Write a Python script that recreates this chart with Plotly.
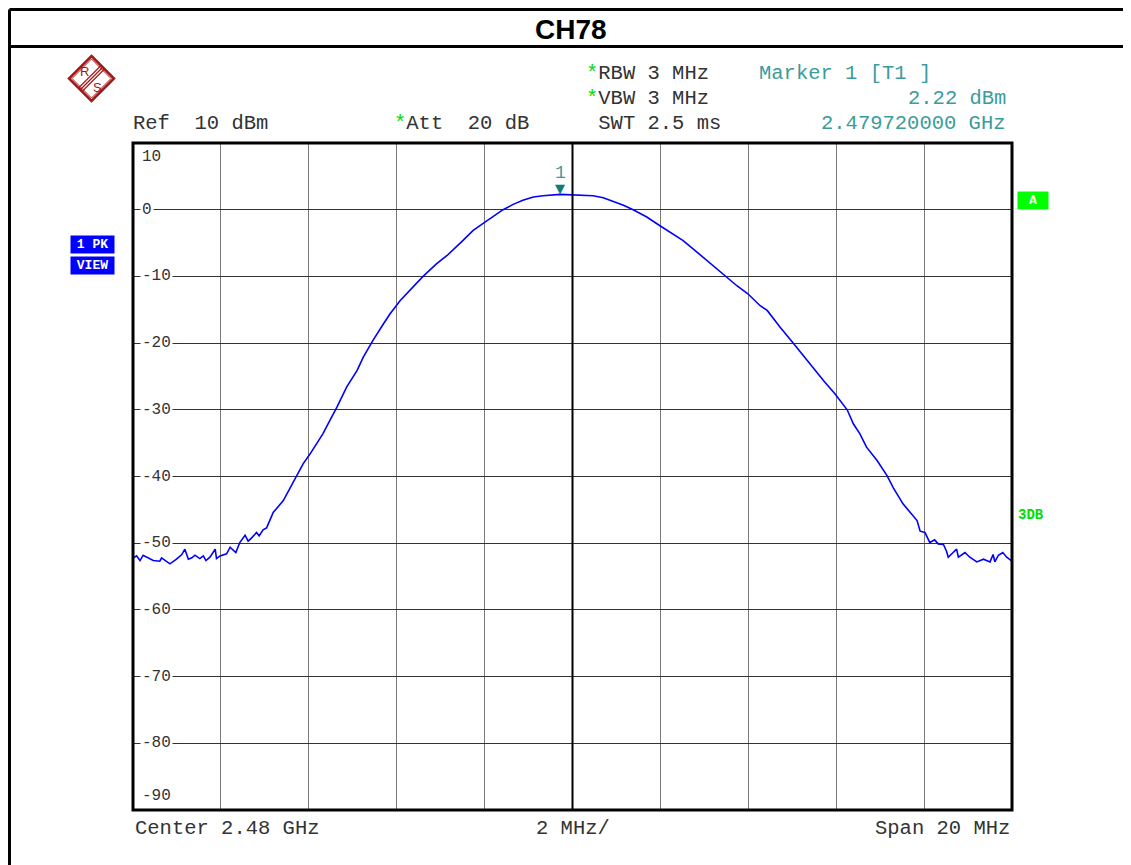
import plotly.graph_objects as go

# ---------------- data ----------------
title_text = "CH78"
center_ghz = 2.48
span_mhz = 20
ref_level_dbm = 10
att_db = 20
rbw_mhz = 3
vbw_mhz = 3
swt_ms = 2.5
y_min = -90

freq_offset_mhz = [
    -10.00, -9.99, -9.92, -9.84, -9.77, -9.65, -9.54, -9.39, -9.35, -9.16,
    -9.01, -8.89, -8.82, -8.74, -8.66, -8.59, -8.48, -8.40, -8.34, -8.25,
    -8.13, -8.10, -8.02, -7.87, -7.79, -7.66, -7.57, -7.45, -7.38, -7.30,
    -7.19, -7.13, -7.04, -6.96, -6.81, -6.58, -6.50, -6.27, -6.13, -5.97,
    -5.82, -5.68, -5.52, -5.36, -5.14, -4.90, -4.76, -4.54, -4.30, -4.15,
    -3.92, -3.63, -3.40, -3.09, -2.86, -2.49, -2.26, -2.04, -1.80, -1.58,
    -1.35, -1.13, -0.89, -0.67, -0.28, 0.00, 0.47, 0.70, 0.92, 1.16,
    1.38, 1.69, 1.99, 2.22, 2.51, 2.75, 2.97, 3.20, 3.52, 3.74,
    3.99, 4.27, 4.43, 4.72, 5.02, 5.25, 5.47, 5.71, 5.97, 6.25,
    6.39, 6.54, 6.69, 6.93, 7.16, 7.30, 7.52, 7.68, 7.84, 7.91,
    8.02, 8.13, 8.24, 8.32, 8.44, 8.51, 8.55, 8.66, 8.74, 8.78,
    8.93, 9.04, 9.20, 9.35, 9.50, 9.57, 9.61, 9.69, 9.79, 9.88,
    9.98, 10.00,
]
level_dbm = [
    -52.4, -52.2, -51.9, -52.6, -51.8, -52.2, -52.6, -52.7, -52.2, -53.1,
    -52.4, -51.7, -50.9, -52.4, -52.2, -51.8, -52.3, -51.9, -52.6, -52.1,
    -50.9, -52.3, -51.9, -51.6, -50.6, -51.4, -49.9, -48.8, -49.7, -49.2,
    -48.4, -48.9, -48.0, -47.7, -45.4, -43.6, -42.6, -39.9, -38.1, -36.6,
    -35.1, -33.6, -31.6, -29.6, -26.6, -24.1, -22.1, -19.6, -17.1, -15.6,
    -13.6, -11.6, -10.0, -8.1, -6.9, -4.6, -3.1, -2.1, -1.0, 0.0,
    0.8, 1.4, 1.9, 2.1, 2.3, 2.25, 2.1, 1.8, 1.3, 0.65,
    0.0, -1.1, -2.4, -3.4, -4.6, -5.9, -7.1, -8.4, -10.1, -11.4,
    -12.6, -14.4, -15.1, -17.6, -20.0, -21.9, -23.6, -25.6, -27.6, -30.0,
    -32.1, -33.6, -35.6, -37.6, -39.9, -41.7, -44.1, -45.4, -46.6, -48.2,
    -48.4, -49.9, -49.5, -50.1, -50.2, -51.2, -52.1, -51.4, -50.9, -52.1,
    -51.4, -52.1, -52.8, -52.4, -52.8, -51.7, -52.8, -51.8, -51.4, -52.1,
    -52.6, -52.5,
]
marker_freq_ghz = 2.47972
marker_level_dbm = 2.22
y_tick_values = [10, 0, -10, -20, -30, -40, -50, -60, -70, -80, -90]

# ---------------- derived ----------------
freq_ghz = [center_ghz + f / 1000.0 for f in freq_offset_mhz]
x0 = center_ghz - span_mhz / 2000.0
x1 = center_ghz + span_mhz / 2000.0
div_mhz = span_mhz / 10

# page offset (default body margin of the html page)
OFF = 8
FIG_W, FIG_H = 1131 - OFF, 865 - OFF
# plot area in screen pixels
L, R, T, B = 133, 1012, 143, 810
W, H = R - L, B - T


def px(x):
    return (x - L) / W


def py(y):
    return (B - y) / H


MONO = "Liberation Mono"
TEAL = "#3a9c9c"
GREEN = "#00dd00"
RED = "#a01818"
TXT = "#333333"
FS = 20.5

fig = go.Figure()
fig.add_trace(go.Scatter(
    x=freq_ghz, y=level_dbm, mode="lines",
    line=dict(color="#0000ff", width=1.6), hoverinfo="skip", showlegend=False,
))

annotations = []


def txt(text, x, y, anchor="left", size=FS, color=TXT, family=MONO, **kw):
    d = dict(text=text, x=px(x), y=py(y), xref="paper", yref="paper",
             xanchor=anchor, yanchor="middle", showarrow=False,
             font=dict(family=family, size=size, color=color))
    d.update(kw)
    annotations.append(d)


star = f"<span style='color:{GREEN}'>*</span>"
# header
txt(f"<b>{title_text}</b>", 571, 29, anchor="center", size=28, color="#000000",
    family="Liberation Sans")
txt(f"Ref  {ref_level_dbm:g} dBm", 131, 123)
txt(f"{star}Att  {att_db:g} dB", 392, 123)
txt(f"{star}RBW {rbw_mhz:g} MHz", 584, 73)
txt(f"{star}VBW {vbw_mhz:g} MHz", 584, 98)
txt(f" SWT {swt_ms:g} ms", 584, 123)
txt("Marker 1 [T1 ]", 757, 73, color=TEAL)
txt(f"{marker_level_dbm:.2f} dBm", 1008, 98, anchor="right", color=TEAL)
txt(f"{marker_freq_ghz:.9f} GHz", 1008, 123, anchor="right", color=TEAL)
# footer
txt(f"Center {center_ghz:g} GHz", 133, 829)
txt(f"{div_mhz:g} MHz/", 573, 829, anchor="center")
txt(f"Span {span_mhz:g} MHz", 1012, 829, anchor="right")
# side boxes
for label, yc in (("1 PK", 244.5), ("VIEW", 265.5)):
    txt(f"<b>{label}</b>", 92.5, yc, anchor="center", size=13, color="#ffffff",
        bgcolor="#0000ff", width=41, height=15, borderpad=1)
txt("<b>A</b>", 1033, 200.5, anchor="center", size=13, color="#ffffff",
    bgcolor="#00ff00", width=28, height=15, borderpad=1)
txt("<b>3DB</b>", 1016, 515, size=14, color=GREEN)
# logo letters
txt("R", 84, 71, anchor="center", size=13, color=RED, family="Liberation Sans")
txt("S", 97, 87, anchor="center", size=13, color=RED, family="Liberation Sans")

# y-axis labels (inside plot, white background over gridline)
for v in y_tick_values:
    shift = 0
    if v == y_tick_values[0]:
        shift = -14
    elif v == y_tick_values[-1]:
        shift = 14
    annotations.append(dict(
        text=f"{v:g}", x=px(140), y=v, xref="paper", yref="y",
        xanchor="left", yanchor="middle", yshift=shift, showarrow=False,
        bgcolor="rgba(255,255,255,1)" if shift == 0 else "rgba(0,0,0,0)",
        borderpad=1, font=dict(family=MONO, size=16, color=TXT),
    ))

# marker
annotations.append(dict(
    text="▼", x=marker_freq_ghz, y=marker_level_dbm, xref="x", yref="y",
    xanchor="center", yanchor="bottom", yshift=-3, showarrow=False,
    font=dict(family="DejaVu Sans", size=13, color="#127c7c"),
))
annotations.append(dict(
    text="1", x=marker_freq_ghz, y=marker_level_dbm, xref="x", yref="y",
    xanchor="center", yanchor="bottom", yshift=10, showarrow=False,
    font=dict(family=MONO, size=18, color=TEAL),
))

shapes = []


def pline(xa, ya, xb, yb, width=2.5, color="#000000"):
    shapes.append(dict(type="line", xref="paper", yref="paper",
                       x0=px(xa), y0=py(ya), x1=px(xb), y1=py(yb),
                       line=dict(color=color, width=width)))


# frame (page top/left edges sit at screen pixel 8)
pline(9.5, 9.5, 1140, 9.5, width=3)
pline(9.5, 46.5, 1140, 46.5, width=3)
pline(9.5, 9.5, 9.5, 870, width=3)

# logo diamond
cx, cy = 91.5, 78.5


def diamond(r, width):
    pts = [(cx, cy - r), (cx + r, cy), (cx, cy + r), (cx - r, cy)]
    path = "M " + " L ".join(f"{px(a)},{py(b)}" for a, b in pts) + " Z"
    shapes.append(dict(type="path", xref="paper", yref="paper", path=path,
                       line=dict(color=RED, width=width)))


diamond(22.5, 2.5)
diamond(19.5, 1)
for off in (-2.5, 0, 2.5):
    d = off / 1.414
    pline(cx + 11.5 + d, cy - 11.5 + d, cx - 11.5 + d, cy + 11.5 + d, width=1.2, color=RED)

# centre line and plot border
shapes.append(dict(type="line", xref="x", yref="paper", x0=center_ghz, x1=center_ghz,
                   y0=0, y1=1, line=dict(color="#000000", width=2)))
shapes.append(dict(type="rect", xref="paper", yref="paper", x0=0, y0=0, x1=1, y1=1,
                   line=dict(color="#000000", width=3)))

fig.update_layout(
    width=FIG_W, height=FIG_H,
    margin=dict(l=L - OFF, r=FIG_W - (R - OFF), t=T - OFF, b=FIG_H - (B - OFF)),
    paper_bgcolor="#ffffff", plot_bgcolor="#ffffff",
    showlegend=False,
    xaxis=dict(range=[x0, x1], tick0=x0, dtick=div_mhz / 1000.0,
               showgrid=True, gridcolor="#7a7a7a", gridwidth=1,
               showticklabels=False, ticks="", zeroline=False, showline=False,
               fixedrange=True),
    yaxis=dict(range=[y_min, ref_level_dbm], tick0=0, dtick=10,
               showgrid=True, gridcolor="#333333", gridwidth=1,
               showticklabels=False, ticks="", zeroline=False, showline=False,
               fixedrange=True),
    annotations=annotations,
    shapes=shapes,
)

fig.write_html("out.html")
